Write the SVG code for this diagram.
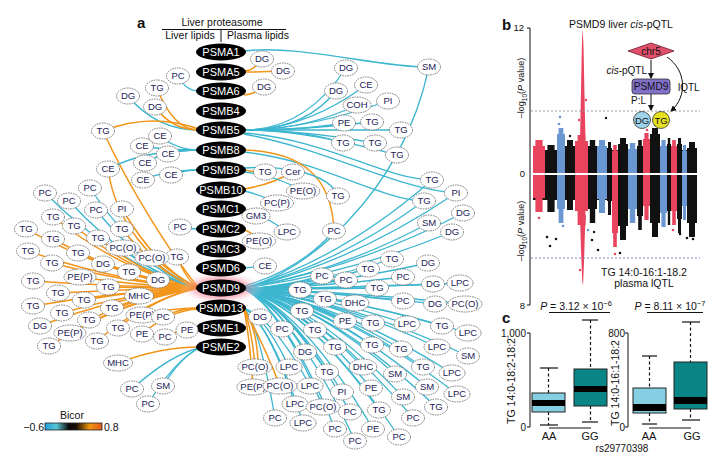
<svg xmlns="http://www.w3.org/2000/svg" width="720" height="464" viewBox="0 0 720 464">
<style>
.c{fill:none;stroke:#3cb6d0;stroke-width:1.3}
.o{fill:none;stroke:#f3951a;stroke-width:1.5}
.n ellipse{fill:#fff;stroke:#707070;stroke-width:0.9;stroke-dasharray:1.6 0.9}
.n text{font-family:"Liberation Sans",Arial,sans-serif;font-size:9.5px;fill:#1c2257;text-anchor:middle}
.p ellipse{fill:#000}
.p text{font-family:"Liberation Sans",Arial,sans-serif;font-size:11px;fill:#fff;text-anchor:middle}
.t{font-family:"Liberation Sans",Arial,sans-serif;fill:#111}
.r{fill:#e8445e}.k{fill:#111}.b{fill:#6a96d2}
.ax{stroke:#111;stroke-width:1;fill:none}
.wh{stroke:#111;stroke-width:1.2;stroke-dasharray:3 2.5}
.cap{stroke:#111;stroke-width:1.2}
</style>
<defs>
<radialGradient id="glow" cx="0.5" cy="0.5" r="0.5">
<stop offset="0" stop-color="#f04a6a" stop-opacity="0.9"/>
<stop offset="0.6" stop-color="#f27a90" stop-opacity="0.45"/>
<stop offset="1" stop-color="#ffffff" stop-opacity="0"/>
</radialGradient>
<linearGradient id="bicor" x1="0" x2="1" y1="0" y2="0">
<stop offset="0" stop-color="#1e9fd8"/>
<stop offset="0.2" stop-color="#5cc6d6"/>
<stop offset="0.42" stop-color="#0a0a0a"/>
<stop offset="0.55" stop-color="#1a1005"/>
<stop offset="0.78" stop-color="#f0960f"/>
<stop offset="1" stop-color="#e05a1e"/>
</linearGradient>
<marker id="ar" markerWidth="6" markerHeight="6" refX="5" refY="3" orient="auto" markerUnits="userSpaceOnUse">
<path d="M0,0 L6,3 L0,6 z" fill="#111"/>
</marker>
</defs>
<rect width="720" height="464" fill="#fff"/>

<text class="t" x="137" y="28" font-size="15" font-weight="bold">a</text>
<text class="t" x="222" y="26" font-size="10.5" text-anchor="middle">Liver proteasome</text>
<line x1="162" y1="29.5" x2="286" y2="29.5" class="ax"/>
<line x1="221" y1="29.5" x2="221" y2="42" class="ax"/>
<text class="t" x="190" y="39" font-size="10.5" text-anchor="middle">Liver lipids</text>
<text class="t" x="258" y="39" font-size="10.5" text-anchor="middle">Plasma lipids</text>

<g id="connectors">
<path class="c" d="M199 91 Q186 91 178 76"/>
<path class="o" d="M199 130 Q173 130 157 88"/>
<path class="c" d="M199 130 Q156 130 128 96"/>
<path class="o" d="M199 130 Q172 130 155 107"/>
<path class="o" d="M199 129 Q150 112 103 131"/>
<path class="o" d="M199 288 C175 260 130 190 103 131"/>
<path class="c" d="M199 150 Q177 150 160 136"/>
<path class="c" d="M199 150 Q164 150 142 146"/>
<path class="c" d="M199 150 Q180 150 168 154"/>
<path class="c" d="M199 150 Q166 150 145 163"/>
<path class="c" d="M199 170 Q182 170 171 175"/>
<path class="c" d="M199 170 Q165 170 143 180"/>
<path class="c" d="M199 150 Q144 150 108 169"/>
<path class="o" d="M199 288 C150 265 115 220 108 169"/>
<path class="c" d="M199 229 Q190 229 180 227"/>
<path class="c" d="M199 288 Q121.5 269 45 193"/>
<path class="c" d="M199 288 Q144 268 90 188"/>
<path class="c" d="M199 288 Q133.5 270.6 69 201"/>
<path class="c" d="M199 288 Q147 272 96 210"/>
<path class="o" d="M199 288 Q160 272 122 209"/>
<path class="o" d="M199 288 Q125.5 274 53 217"/>
<path class="o" d="M199 288 Q136 275.6 74 226"/>
<path class="o" d="M199 288 Q112 276 26 229"/>
<path class="o" d="M199 288 Q125.5 278 53 239"/>
<path class="o" d="M199 288 Q148 278 98 238"/>
<path class="o" d="M199 288 Q160 276 122 229"/>
<path class="o" d="M199 288 Q113 280.6 28 251"/>
<path class="o" d="M199 288 Q138 281 78 253"/>
<path class="c" d="M199 288 Q160.5 280 123 248"/>
<path class="o" d="M199 288 Q125 283 52 263"/>
<path class="o" d="M199 288 Q150.5 283 103 264"/>
<path class="o" d="M199 288 Q175 282 152 258"/>
<path class="o" d="M199 288 Q187.5 282 177 257"/>
<path class="o" d="M199 288 Q163.5 285 129 272"/>
<path class="o" d="M199 288 Q115.5 286.6 33 281"/>
<path class="o" d="M199 288 Q139 286 80 277"/>
<path class="o" d="M199 288 Q153 288 108 287"/>
<path class="o" d="M199 288 Q178 286 158 280"/>
<path class="o" d="M199 288 Q128 289 58 293"/>
<path class="o" d="M199 288 Q141 290 84 300"/>
<path class="o" d="M199 288 Q168.5 289.6 139 296"/>
<path class="o" d="M199 288 Q115.5 291.6 33 306"/>
<path class="o" d="M199 288 Q155 292 112 308"/>
<path class="o" d="M199 288 Q130 293 62 313"/>
<path class="o" d="M199 288 Q143.5 294 89 320"/>
<path class="o" d="M199 288 Q119 295.6 40 326"/>
<path class="o" d="M199 288 Q134 297 70 333"/>
<path class="o" d="M199 288 Q158 296 118 328"/>
<path class="o" d="M199 288 Q123.5 299.6 49 346"/>
<path class="o" d="M199 288 Q147.5 298.6 97 341"/>
<path class="o" d="M199 308 Q170 308 142 315"/>
<path class="o" d="M199 308 Q180 308 163 317"/>
<path class="o" d="M199 309 Q170 310 142 334"/>
<path class="o" d="M199 328 Q182 328 165 337"/>
<path class="o" d="M199 327 L188 330"/>
<path class="o" d="M199 347 Q160 347 118 363"/>
<path class="c" d="M199 348 Q170 355 132 389"/>
<path class="c" d="M199 348 Q180 358 163 386"/>
<path class="c" d="M199 348 Q175 360 148 404"/>
<path class="c" d="M244 51 C300 44 380 68 429 67"/>
<path class="c" d="M244 288 C300 275 400 200 429 67"/>
<path class="o" d="M244 71 Q254 71 262 59"/>
<path class="o" d="M244 72 Q265 72 283 71"/>
<path class="o" d="M244 95 Q255 94 264 87"/>
<path class="c" d="M244 130 Q305 130 346 68" stroke-width="1.6"/>
<path class="c" d="M244 130 Q305 130 336 91" stroke-width="1.6"/>
<path class="c" d="M244 130 Q305 130 366 85" stroke-width="1.6"/>
<path class="c" d="M244 130 Q305 130 357 105" stroke-width="1.6"/>
<path class="c" d="M244 130 Q305 130 388 101" stroke-width="1.6"/>
<path class="c" d="M244 130 Q305 130 344 123" stroke-width="1.6"/>
<path class="c" d="M244 130 Q305 130 372 122" stroke-width="1.6"/>
<path class="c" d="M244 130 Q305 130 401 130" stroke-width="1.6"/>
<path class="c" d="M244 130 Q305 130 343 143" stroke-width="1.6"/>
<path class="c" d="M244 130 Q305 130 375 143" stroke-width="1.6"/>
<path class="c" d="M244 130 Q305 130 397 155" stroke-width="1.6"/>
<path class="c" d="M244 133 C330 140 380 178 432 180"/>
<path class="c" d="M244 134 C330 150 400 190 456 193"/>
<path class="c" d="M244 152 C320 160 380 200 424 201"/>
<path class="o" d="M244 150 C300 152 332 175 334 231"/>
<path class="o" d="M244 170 Q255 172 265 172"/>
<path class="o" d="M244 189 Q270 185 293 172"/>
<path class="c" d="M244 172 Q275 175 303 191"/>
<path class="c" d="M244 191 Q262 195 277 203"/>
<path class="c" d="M244 168 C290 165 330 175 338 196"/>
<path class="c" d="M244 210 Q250 213 256 216"/>
<path class="c" d="M244 211 Q265 215 287 232"/>
<path class="o" d="M244 230 Q252 232 259 241"/>
<path class="c" d="M244 268 L265 266"/>
<path class="c" d="M244 286 Q300 270 334 231"/>
<path class="c" d="M244 288 Q339 261 432 180"/>
<path class="c" d="M244 288 Q351 264 456 193"/>
<path class="c" d="M244 288 Q335 266 424 201"/>
<path class="c" d="M244 288 Q354.5 269 463 213"/>
<path class="c" d="M244 288 Q337.5 272 429 223"/>
<path class="c" d="M244 288 Q349 274 452 232"/>
<path class="c" d="M244 289 Q311.7 284.5 392 259"/>
<path class="c" d="M244 289 Q327.9 285.1 428 263"/>
<path class="c" d="M244 289 Q300.9 286 368 269"/>
<path class="c" d="M244 289 Q280.2 287 322 276"/>
<path class="c" d="M244 289 Q291 287.7 346 280"/>
<path class="c" d="M244 289 Q316.7 287.2 403 277"/>
<path class="c" d="M244 289 Q330.2 288.3 433 284"/>
<path class="c" d="M244 289 Q342.3 288.1 460 283"/>
<path class="c" d="M244 289 Q270.3 289.2 300 290"/>
<path class="c" d="M244 289 Q281.6 290.5 325 299"/>
<path class="c" d="M244 289 Q305 289 377 288"/>
<path class="c" d="M244 289 Q295 291 355 303"/>
<path class="c" d="M244 289 Q316.7 290.8 403 301"/>
<path class="c" d="M244 289 Q331 291.3 435 304"/>
<path class="c" d="M244 289 Q344.6 291.3 465 304"/>
<path class="c" d="M244 289 Q271.2 292.3 302 311"/>
<path class="c" d="M244 289 Q290.6 293.8 345 321"/>
<path class="c" d="M244 289 Q303.2 294.1 373 323"/>
<path class="c" d="M244 289 Q318.5 294.3 407 324"/>
<path class="c" d="M244 289 Q334.2 294.6 442 326"/>
<path class="c" d="M244 289 Q345.9 295.6 468 333"/>
<path class="c" d="M244 309 Q252 312 260 317"/>
<path class="c" d="M244 289 Q262.2 295 282 329"/>
<path class="c" d="M244 289 Q277 295.2 315 330"/>
<path class="c" d="M244 289 Q286 297.7 335 347"/>
<path class="c" d="M244 289 Q302.7 297.4 372 345"/>
<path class="c" d="M244 289 Q315.75 298 401 349"/>
<path class="c" d="M244 289 Q332 297.7 437 347"/>
<path class="c" d="M244 289 Q346 299 468 356"/>
<path class="c" d="M244 289 Q272.6 298.5 305 352"/>
<path class="c" d="M244 308 Q265.4 316.9 289 367"/>
<path class="c" d="M244 289 Q282.5 301.5 327 372"/>
<path class="c" d="M244 289 Q298.7 300.7 363 367"/>
<path class="c" d="M244 289 Q313 301.8 395 374"/>
<path class="c" d="M244 289 Q325.7 300.7 423 367"/>
<path class="c" d="M244 289 Q338.7 301.6 452 373"/>
<path class="c" d="M244 308 Q274.8 319.7 310 386"/>
<path class="c" d="M244 289 Q289.2 304.5 342 392"/>
<path class="c" d="M244 289 Q302.3 303.9 371 388"/>
<path class="c" d="M244 289 Q316.7 305.2 403 397"/>
<path class="c" d="M244 289 Q327.5 303.7 427 387"/>
<path class="c" d="M244 289 Q341 304.8 457 394"/>
<path class="c" d="M244 308 Q268 322.4 295 404"/>
<path class="c" d="M244 289 Q280.7 306.7 323 407"/>
<path class="c" d="M244 289 Q292.8 307.5 350 412"/>
<path class="c" d="M244 289 Q305.9 307 379 410"/>
<path class="c" d="M244 289 Q331.5 306.7 436 407"/>
<path class="c" d="M244 308 Q259 324.5 275 418"/>
<path class="c" d="M244 308 Q271.7 325.3 303 423"/>
<path class="c" d="M244 289 Q321 308.4 413 418"/>
<path class="c" d="M244 289 Q286 310 335 429"/>
<path class="c" d="M244 289 Q303 310 373 429"/>
<path class="c" d="M244 289 Q295 311.8 355 441"/>
<path class="c" d="M244 289 Q314.9 311.2 399 437"/>
<path class="o" d="M244 309 Q252 330 255 367"/>
<path class="o" d="M244 309 Q258 330 258 367"/>
<path class="o" d="M244 309 Q250 340 253 387"/>
<path class="o" d="M244 309 Q262 340 280 386"/>
</g>

<ellipse cx="221" cy="288" rx="44" ry="17" fill="url(#glow)"/>

<g id="PSMA1" class="p"><ellipse cx="221" cy="52" rx="25" ry="8.5"/><text x="221" y="56">PSMA1</text></g>
<g id="PSMA5" class="p"><ellipse cx="221" cy="72" rx="25" ry="8.5"/><text x="221" y="76">PSMA5</text></g>
<g id="PSMA6" class="p"><ellipse cx="221" cy="91" rx="25" ry="8.5"/><text x="221" y="95">PSMA6</text></g>
<g id="PSMB4" class="p"><ellipse cx="221" cy="111" rx="25" ry="8.5"/><text x="221" y="115">PSMB4</text></g>
<g id="PSMB5" class="p"><ellipse cx="221" cy="130" rx="25" ry="8.5"/><text x="221" y="134">PSMB5</text></g>
<g id="PSMB8" class="p"><ellipse cx="221" cy="150" rx="25" ry="8.5"/><text x="221" y="154">PSMB8</text></g>
<g id="PSMB9" class="p"><ellipse cx="221" cy="170" rx="25" ry="8.5"/><text x="221" y="174">PSMB9</text></g>
<g id="PSMB10" class="p"><ellipse cx="221" cy="190" rx="25" ry="8.5"/><text x="221" y="194">PSMB10</text></g>
<g id="PSMC1" class="p"><ellipse cx="221" cy="209" rx="25" ry="8.5"/><text x="221" y="213">PSMC1</text></g>
<g id="PSMC2" class="p"><ellipse cx="221" cy="229" rx="25" ry="8.5"/><text x="221" y="233">PSMC2</text></g>
<g id="PSMC3" class="p"><ellipse cx="221" cy="249" rx="25" ry="8.5"/><text x="221" y="253">PSMC3</text></g>
<g id="PSMD6" class="p"><ellipse cx="221" cy="268" rx="25" ry="8.5"/><text x="221" y="272">PSMD6</text></g>
<g id="PSMD9" class="p"><ellipse cx="221" cy="288" rx="25" ry="8.5"/><text x="221" y="292">PSMD9</text></g>
<g id="PSMD13" class="p"><ellipse cx="221" cy="308" rx="25" ry="8.5"/><text x="221" y="312">PSMD13</text></g>
<g id="PSME1" class="p"><ellipse cx="221" cy="328" rx="25" ry="8.5"/><text x="221" y="332">PSME1</text></g>
<g id="PSME2" class="p"><ellipse cx="221" cy="347" rx="25" ry="8.5"/><text x="221" y="351">PSME2</text></g>

<g id="l1" class="n"><ellipse cx="178" cy="76" rx="11.5" ry="8"/><text x="178" y="79.4">PC</text></g>
<g id="l2" class="n"><ellipse cx="157" cy="88" rx="11.5" ry="8"/><text x="157" y="91.4">TG</text></g>
<g id="l3" class="n"><ellipse cx="128" cy="96" rx="11.5" ry="8"/><text x="128" y="99.4">DG</text></g>
<g id="l4" class="n"><ellipse cx="155" cy="107" rx="11.5" ry="8"/><text x="155" y="110.4">DG</text></g>
<g id="l5" class="n"><ellipse cx="103" cy="131" rx="11.5" ry="8"/><text x="103" y="134.4">TG</text></g>
<g id="l6" class="n"><ellipse cx="160" cy="136" rx="11.5" ry="8"/><text x="160" y="139.4">CE</text></g>
<g id="l7" class="n"><ellipse cx="142" cy="146" rx="11.5" ry="8"/><text x="142" y="149.4">CE</text></g>
<g id="l8" class="n"><ellipse cx="168" cy="154" rx="11.5" ry="8"/><text x="168" y="157.4">CE</text></g>
<g id="l9" class="n"><ellipse cx="145" cy="163" rx="11.5" ry="8"/><text x="145" y="166.4">CE</text></g>
<g id="l10" class="n"><ellipse cx="108" cy="169" rx="11.5" ry="8"/><text x="108" y="172.4">CE</text></g>
<g id="l11" class="n"><ellipse cx="171" cy="175" rx="11.5" ry="8"/><text x="171" y="178.4">CE</text></g>
<g id="l12" class="n"><ellipse cx="143" cy="180" rx="11.5" ry="8"/><text x="143" y="183.4">CE</text></g>
<g id="l13" class="n"><ellipse cx="45" cy="193" rx="11.5" ry="8"/><text x="45" y="196.4">PC</text></g>
<g id="l14" class="n"><ellipse cx="90" cy="188" rx="11.5" ry="8"/><text x="90" y="191.4">PC</text></g>
<g id="l15" class="n"><ellipse cx="69" cy="201" rx="11.5" ry="8"/><text x="69" y="204.4">PC</text></g>
<g id="l16" class="n"><ellipse cx="96" cy="210" rx="11.5" ry="8"/><text x="96" y="213.4">PC</text></g>
<g id="l17" class="n"><ellipse cx="122" cy="209" rx="11.5" ry="8"/><text x="122" y="212.4">PI</text></g>
<g id="l18" class="n"><ellipse cx="53" cy="217" rx="11.5" ry="8"/><text x="53" y="220.4">TG</text></g>
<g id="l19" class="n"><ellipse cx="74" cy="226" rx="11.5" ry="8"/><text x="74" y="229.4">TG</text></g>
<g id="l20" class="n"><ellipse cx="26" cy="229" rx="11.5" ry="8"/><text x="26" y="232.4">TG</text></g>
<g id="l21" class="n"><ellipse cx="53" cy="239" rx="11.5" ry="8"/><text x="53" y="242.4">TG</text></g>
<g id="l22" class="n"><ellipse cx="98" cy="238" rx="11.5" ry="8"/><text x="98" y="241.4">TG</text></g>
<g id="l23" class="n"><ellipse cx="122" cy="229" rx="11.5" ry="8"/><text x="122" y="232.4">TG</text></g>
<g id="l24" class="n"><ellipse cx="180" cy="227" rx="11.5" ry="8"/><text x="180" y="230.4">PC</text></g>
<g id="l25" class="n"><ellipse cx="28" cy="251" rx="11.5" ry="8"/><text x="28" y="254.4">TG</text></g>
<g id="l26" class="n"><ellipse cx="78" cy="253" rx="11.5" ry="8"/><text x="78" y="256.4">TG</text></g>
<g id="l27" class="n"><ellipse cx="123" cy="248" rx="17" ry="8"/><text x="123" y="251.4">PC(O)</text></g>
<g id="l28" class="n"><ellipse cx="52" cy="263" rx="11.5" ry="8"/><text x="52" y="266.4">TG</text></g>
<g id="l29" class="n"><ellipse cx="103" cy="264" rx="11.5" ry="8"/><text x="103" y="267.4">DG</text></g>
<g id="l31" class="n"><ellipse cx="177" cy="257" rx="11.5" ry="8"/><text x="177" y="260.4">TG</text></g>
<g id="l30" class="n"><ellipse cx="152" cy="258" rx="17" ry="8"/><text x="152" y="261.4">PC(O)</text></g>
<g id="l32" class="n"><ellipse cx="129" cy="272" rx="11.5" ry="8"/><text x="129" y="275.4">TG</text></g>
<g id="l33" class="n"><ellipse cx="33" cy="281" rx="11.5" ry="8"/><text x="33" y="284.4">TG</text></g>
<g id="l34" class="n"><ellipse cx="80" cy="277" rx="16" ry="8"/><text x="80" y="280.4">PE(P)</text></g>
<g id="l35" class="n"><ellipse cx="108" cy="287" rx="11.5" ry="8"/><text x="108" y="290.4">TG</text></g>
<g id="l36" class="n"><ellipse cx="158" cy="280" rx="11.5" ry="8"/><text x="158" y="283.4">DG</text></g>
<g id="l37" class="n"><ellipse cx="58" cy="293" rx="11.5" ry="8"/><text x="58" y="296.4">TG</text></g>
<g id="l38" class="n"><ellipse cx="84" cy="300" rx="11.5" ry="8"/><text x="84" y="303.4">TG</text></g>
<g id="l39" class="n"><ellipse cx="139" cy="296" rx="14.5" ry="8"/><text x="139" y="299.4">MHC</text></g>
<g id="l40" class="n"><ellipse cx="33" cy="306" rx="11.5" ry="8"/><text x="33" y="309.4">TG</text></g>
<g id="l41" class="n"><ellipse cx="112" cy="308" rx="11.5" ry="8"/><text x="112" y="311.4">TG</text></g>
<g id="l42" class="n"><ellipse cx="62" cy="313" rx="11.5" ry="8"/><text x="62" y="316.4">TG</text></g>
<g id="l43" class="n"><ellipse cx="89" cy="320" rx="11.5" ry="8"/><text x="89" y="323.4">TG</text></g>
<g id="l44" class="n"><ellipse cx="142" cy="315" rx="16" ry="8"/><text x="142" y="318.4">PE(P)</text></g>
<g id="l45" class="n"><ellipse cx="163" cy="317" rx="11.5" ry="8"/><text x="163" y="320.4">PC</text></g>
<g id="l46" class="n"><ellipse cx="40" cy="326" rx="11.5" ry="8"/><text x="40" y="329.4">DG</text></g>
<g id="l47" class="n"><ellipse cx="70" cy="333" rx="16" ry="8"/><text x="70" y="336.4">PE(P)</text></g>
<g id="l48" class="n"><ellipse cx="118" cy="328" rx="11.5" ry="8"/><text x="118" y="331.4">TG</text></g>
<g id="l49" class="n"><ellipse cx="142" cy="334" rx="11.5" ry="8"/><text x="142" y="337.4">PE</text></g>
<g id="l50" class="n"><ellipse cx="165" cy="337" rx="11.5" ry="8"/><text x="165" y="340.4">PC</text></g>
<g id="l51" class="n"><ellipse cx="187" cy="330" rx="11" ry="8"/><text x="187" y="333.4">PE</text></g>
<g id="l52" class="n"><ellipse cx="49" cy="346" rx="11.5" ry="8"/><text x="49" y="349.4">TG</text></g>
<g id="l53" class="n"><ellipse cx="97" cy="341" rx="11.5" ry="8"/><text x="97" y="344.4">TG</text></g>
<g id="l54" class="n"><ellipse cx="118" cy="363" rx="14.5" ry="8"/><text x="118" y="366.4">MHC</text></g>
<g id="l55" class="n"><ellipse cx="132" cy="389" rx="11.5" ry="8"/><text x="132" y="392.4">PC</text></g>
<g id="l56" class="n"><ellipse cx="163" cy="386" rx="11.5" ry="8"/><text x="163" y="389.4">SM</text></g>
<g id="l57" class="n"><ellipse cx="148" cy="404" rx="11.5" ry="8"/><text x="148" y="407.4">PC</text></g>

<g id="r1" class="n"><ellipse cx="262" cy="59" rx="11.5" ry="8"/><text x="262" y="62.4">DG</text></g>
<g id="r2" class="n"><ellipse cx="283" cy="71" rx="11.5" ry="8"/><text x="283" y="74.4">DG</text></g>
<g id="r3" class="n"><ellipse cx="264" cy="87" rx="11.5" ry="8"/><text x="264" y="90.4">DG</text></g>
<g id="r4" class="n"><ellipse cx="346" cy="68" rx="11.5" ry="8"/><text x="346" y="71.4">DG</text></g>
<g id="r5" class="n"><ellipse cx="336" cy="91" rx="11.5" ry="8"/><text x="336" y="94.4">DG</text></g>
<g id="r6" class="n"><ellipse cx="366" cy="85" rx="11.5" ry="8"/><text x="366" y="88.4">CE</text></g>
<g id="r7" class="n"><ellipse cx="357" cy="105" rx="14" ry="8"/><text x="357" y="108.4">COH</text></g>
<g id="r8" class="n"><ellipse cx="388" cy="101" rx="11.5" ry="8"/><text x="388" y="104.4">PI</text></g>
<g id="r9" class="n"><ellipse cx="344" cy="123" rx="11.5" ry="8"/><text x="344" y="126.4">PE</text></g>
<g id="r10" class="n"><ellipse cx="372" cy="122" rx="11.5" ry="8"/><text x="372" y="125.4">TG</text></g>
<g id="r11" class="n"><ellipse cx="401" cy="130" rx="11.5" ry="8"/><text x="401" y="133.4">TG</text></g>
<g id="r12" class="n"><ellipse cx="343" cy="143" rx="11.5" ry="8"/><text x="343" y="146.4">TG</text></g>
<g id="r13" class="n"><ellipse cx="375" cy="143" rx="11.5" ry="8"/><text x="375" y="146.4">TG</text></g>
<g id="r14" class="n"><ellipse cx="397" cy="155" rx="11.5" ry="8"/><text x="397" y="158.4">TG</text></g>
<g id="r15" class="n"><ellipse cx="429" cy="67" rx="11.5" ry="8"/><text x="429" y="70.4">SM</text></g>
<g id="r16" class="n"><ellipse cx="265" cy="172" rx="11.5" ry="8"/><text x="265" y="175.4">TG</text></g>
<g id="r17" class="n"><ellipse cx="293" cy="172" rx="11.5" ry="8"/><text x="293" y="175.4">Cer</text></g>
<g id="r18" class="n"><ellipse cx="303" cy="191" rx="16.7" ry="8"/><text x="303" y="194.4">PE(O)</text></g>
<g id="r19" class="n"><ellipse cx="277" cy="203" rx="16.5" ry="8"/><text x="277" y="206.4">PC(P)</text></g>
<g id="r20" class="n"><ellipse cx="338" cy="196" rx="11.5" ry="8"/><text x="338" y="199.4">TG</text></g>
<g id="r21" class="n"><ellipse cx="256" cy="216" rx="14" ry="8"/><text x="256" y="219.4">GM3</text></g>
<g id="r22" class="n"><ellipse cx="287" cy="232" rx="13" ry="8"/><text x="287" y="235.4">LPC</text></g>
<g id="r23" class="n"><ellipse cx="334" cy="231" rx="11.5" ry="8"/><text x="334" y="234.4">PC</text></g>
<g id="r24" class="n"><ellipse cx="259" cy="241" rx="16.7" ry="8"/><text x="259" y="244.4">PE(O)</text></g>
<g id="r25" class="n"><ellipse cx="265" cy="266" rx="11.5" ry="8"/><text x="265" y="269.4">CE</text></g>
<g id="r26" class="n"><ellipse cx="432" cy="180" rx="11.5" ry="8"/><text x="432" y="183.4">TG</text></g>
<g id="r27" class="n"><ellipse cx="456" cy="193" rx="11.5" ry="8"/><text x="456" y="196.4">PI</text></g>
<g id="r28" class="n"><ellipse cx="424" cy="201" rx="11.5" ry="8"/><text x="424" y="204.4">TG</text></g>
<g id="r29" class="n"><ellipse cx="463" cy="213" rx="11.5" ry="8"/><text x="463" y="216.4">DG</text></g>
<g id="r30" class="n"><ellipse cx="429" cy="223" rx="11.5" ry="8"/><text x="429" y="226.4">SM</text></g>
<g id="r31" class="n"><ellipse cx="452" cy="232" rx="11.5" ry="8"/><text x="452" y="235.4">DG</text></g>

<g id="b1" class="n"><ellipse cx="392" cy="259" rx="11.5" ry="8"/><text x="392" y="262.4">TG</text></g>
<g id="b2" class="n"><ellipse cx="428" cy="263" rx="11.5" ry="8"/><text x="428" y="266.4">DG</text></g>
<g id="b3" class="n"><ellipse cx="368" cy="269" rx="11.5" ry="8"/><text x="368" y="272.4">TG</text></g>
<g id="b4" class="n"><ellipse cx="322" cy="276" rx="11.5" ry="8"/><text x="322" y="279.4">PC</text></g>
<g id="b5" class="n"><ellipse cx="346" cy="280" rx="11.5" ry="8"/><text x="346" y="283.4">PC</text></g>
<g id="b6" class="n"><ellipse cx="403" cy="277" rx="11.5" ry="8"/><text x="403" y="280.4">PC</text></g>
<g id="b7" class="n"><ellipse cx="433" cy="284" rx="11.5" ry="8"/><text x="433" y="287.4">DG</text></g>
<g id="b8" class="n"><ellipse cx="460" cy="283" rx="13" ry="8"/><text x="460" y="286.4">LPC</text></g>
<g id="b9" class="n"><ellipse cx="300" cy="290" rx="11.5" ry="8"/><text x="300" y="293.4">TG</text></g>
<g id="b10" class="n"><ellipse cx="325" cy="299" rx="11.5" ry="8"/><text x="325" y="302.4">TG</text></g>
<g id="b11" class="n"><ellipse cx="377" cy="288" rx="11.5" ry="8"/><text x="377" y="291.4">TG</text></g>
<g id="b12" class="n"><ellipse cx="355" cy="303" rx="13.8" ry="8"/><text x="355" y="306.4">DHC</text></g>
<g id="b13" class="n"><ellipse cx="403" cy="301" rx="11.5" ry="8"/><text x="403" y="304.4">PC</text></g>
<g id="b14" class="n"><ellipse cx="435" cy="304" rx="11.5" ry="8"/><text x="435" y="307.4">DG</text></g>
<g id="b15" class="n"><ellipse cx="465" cy="304" rx="17" ry="8"/><text x="465" y="307.4">PC(O)</text></g>
<g id="b16" class="n"><ellipse cx="302" cy="311" rx="11.5" ry="8"/><text x="302" y="314.4">TG</text></g>
<g id="b17" class="n"><ellipse cx="345" cy="321" rx="11.5" ry="8"/><text x="345" y="324.4">PE</text></g>
<g id="b18" class="n"><ellipse cx="373" cy="323" rx="11.5" ry="8"/><text x="373" y="326.4">TG</text></g>
<g id="b19" class="n"><ellipse cx="407" cy="324" rx="13" ry="8"/><text x="407" y="327.4">LPC</text></g>
<g id="b20" class="n"><ellipse cx="442" cy="326" rx="11.5" ry="8"/><text x="442" y="329.4">TG</text></g>
<g id="b21" class="n"><ellipse cx="468" cy="333" rx="13" ry="8"/><text x="468" y="336.4">LPC</text></g>
<g id="b22" class="n"><ellipse cx="260" cy="317" rx="11.5" ry="8"/><text x="260" y="320.4">DG</text></g>
<g id="b23" class="n"><ellipse cx="282" cy="329" rx="11.5" ry="8"/><text x="282" y="332.4">PC</text></g>
<g id="b24" class="n"><ellipse cx="315" cy="330" rx="11.5" ry="8"/><text x="315" y="333.4">TG</text></g>
<g id="b25" class="n"><ellipse cx="335" cy="347" rx="11.5" ry="8"/><text x="335" y="350.4">TG</text></g>
<g id="b26" class="n"><ellipse cx="372" cy="345" rx="11.5" ry="8"/><text x="372" y="348.4">TG</text></g>
<g id="b27" class="n"><ellipse cx="401" cy="349" rx="11.5" ry="8"/><text x="401" y="352.4">TG</text></g>
<g id="b28" class="n"><ellipse cx="437" cy="347" rx="13" ry="8"/><text x="437" y="350.4">LPC</text></g>
<g id="b29" class="n"><ellipse cx="468" cy="356" rx="11.5" ry="8"/><text x="468" y="359.4">SM</text></g>
<g id="b30" class="n"><ellipse cx="305" cy="352" rx="11.5" ry="8"/><text x="305" y="355.4">DG</text></g>
<g id="b31" class="n"><ellipse cx="255" cy="367" rx="17" ry="8"/><text x="255" y="370.4">PC(O)</text></g>
<g id="b32" class="n"><ellipse cx="289" cy="367" rx="13" ry="8"/><text x="289" y="370.4">LPC</text></g>
<g id="b33" class="n"><ellipse cx="327" cy="372" rx="11.5" ry="8"/><text x="327" y="375.4">TG</text></g>
<g id="b34" class="n"><ellipse cx="363" cy="367" rx="13.8" ry="8"/><text x="363" y="370.4">DHC</text></g>
<g id="b35" class="n"><ellipse cx="395" cy="374" rx="11.5" ry="8"/><text x="395" y="377.4">SM</text></g>
<g id="b36" class="n"><ellipse cx="423" cy="367" rx="11.5" ry="8"/><text x="423" y="370.4">TG</text></g>
<g id="b37" class="n"><ellipse cx="452" cy="373" rx="13" ry="8"/><text x="452" y="376.4">LPC</text></g>
<g id="b38" class="n"><ellipse cx="253" cy="387" rx="16" ry="8"/><text x="253" y="390.4">PE(P)</text></g>
<g id="b39" class="n"><ellipse cx="280" cy="386" rx="17" ry="8"/><text x="280" y="389.4">PC(O)</text></g>
<g id="b40" class="n"><ellipse cx="310" cy="386" rx="13" ry="8"/><text x="310" y="389.4">LPC</text></g>
<g id="b41" class="n"><ellipse cx="342" cy="392" rx="11.5" ry="8"/><text x="342" y="395.4">PI</text></g>
<g id="b42" class="n"><ellipse cx="371" cy="388" rx="11.5" ry="8"/><text x="371" y="391.4">PE</text></g>
<g id="b43" class="n"><ellipse cx="403" cy="397" rx="11.5" ry="8"/><text x="403" y="400.4">SM</text></g>
<g id="b44" class="n"><ellipse cx="427" cy="387" rx="11.5" ry="8"/><text x="427" y="390.4">SM</text></g>
<g id="b45" class="n"><ellipse cx="457" cy="394" rx="13" ry="8"/><text x="457" y="397.4">LPC</text></g>
<g id="b46" class="n"><ellipse cx="295" cy="404" rx="13" ry="8"/><text x="295" y="407.4">LPC</text></g>
<g id="b47" class="n"><ellipse cx="323" cy="407" rx="17" ry="8"/><text x="323" y="410.4">PC(O)</text></g>
<g id="b48" class="n"><ellipse cx="350" cy="412" rx="11.5" ry="8"/><text x="350" y="415.4">PC</text></g>
<g id="b49" class="n"><ellipse cx="379" cy="410" rx="11.5" ry="8"/><text x="379" y="413.4">TG</text></g>
<g id="b50" class="n"><ellipse cx="436" cy="407" rx="11.5" ry="8"/><text x="436" y="410.4">TG</text></g>
<g id="b51" class="n"><ellipse cx="275" cy="418" rx="11.5" ry="8"/><text x="275" y="421.4">PC</text></g>
<g id="b52" class="n"><ellipse cx="303" cy="423" rx="13" ry="8"/><text x="303" y="426.4">LPC</text></g>
<g id="b53" class="n"><ellipse cx="413" cy="418" rx="11.5" ry="8"/><text x="413" y="421.4">PC</text></g>
<g id="b54" class="n"><ellipse cx="335" cy="429" rx="11.5" ry="8"/><text x="335" y="432.4">PC</text></g>
<g id="b55" class="n"><ellipse cx="373" cy="429" rx="11.5" ry="8"/><text x="373" y="432.4">PE</text></g>
<g id="b56" class="n"><ellipse cx="355" cy="441" rx="11.5" ry="8"/><text x="355" y="444.4">PC</text></g>
<g id="b57" class="n"><ellipse cx="399" cy="437" rx="11.5" ry="8"/><text x="399" y="440.4">PC</text></g>

<g id="legend">
<text class="t" x="72" y="419" font-size="10.5" text-anchor="middle">Bicor</text>
<rect x="45" y="423" width="57" height="7" fill="url(#bicor)" stroke="#222" stroke-width="0.8"/>
<text class="t" x="44" y="431" font-size="10.5" text-anchor="end">−0.6</text>
<text class="t" x="104" y="431" font-size="10.5">0.8</text>
</g>

<g id="panel-b">
<text class="t" x="502" y="30" font-size="15" font-weight="bold">b</text>
<text class="t" x="621" y="28" font-size="10.5" text-anchor="middle">PSMD9 liver <tspan font-style="italic">cis</tspan>-pQTL</text>
<rect class="k" x="533" y="150" width="164" height="50"/>
<g>
<rect class="r" x="533" y="146" width="12" height="52"/><rect class="r" x="535.4" y="140" width="7.2" height="72"/>
<rect class="k" x="545" y="151" width="12" height="47"/><rect class="k" x="547.4" y="145" width="7.2" height="67"/>
<rect class="b" x="557" y="134" width="8" height="75"/><rect class="b" x="558.6" y="128" width="4.8" height="95"/>
<rect class="k" x="565" y="146" width="10" height="50"/><rect class="k" x="567" y="140" width="6" height="70"/>
<rect class="r" x="575" y="141" width="13" height="70"/><rect class="r" x="577.6" y="135" width="7.8" height="90"/>
<polygon class="r" points="580,140 581,90 582,40 582.8,29 583.6,50 584.5,95 585.5,140"/>
<polygon class="r" points="580,215 581,250 582.2,280 583,286 584,262 585,230 586,215"/>
<rect class="k" x="588" y="146" width="9" height="63"/><rect class="k" x="589.8" y="140" width="5.4" height="83"/>
<rect class="b" x="597" y="146" width="10" height="53"/><rect class="b" x="599" y="140" width="6" height="73"/>
<rect class="k" x="607" y="148" width="5" height="53"/><rect class="k" x="608" y="142" width="3" height="73"/>
<rect class="r" x="612" y="151" width="6" height="82"/><rect class="r" x="613.2" y="145" width="3.6" height="102"/>
<rect class="k" x="618" y="144" width="10" height="82"/><rect class="k" x="620" y="138" width="6" height="102"/>
<rect class="b" x="628" y="149" width="9" height="60"/><rect class="b" x="629.8" y="143" width="5.4" height="80"/>
<rect class="k" x="637" y="146" width="6" height="70"/><rect class="k" x="638.2" y="140" width="3.6" height="90"/>
<rect class="r" x="643" y="139" width="7" height="67"/><rect class="r" x="644.4" y="133" width="4.2" height="87"/>
<rect class="k" x="650" y="134" width="10" height="89"/><rect class="k" x="652" y="128" width="6" height="109"/>
<rect class="b" x="660" y="146" width="7" height="67"/><rect class="b" x="661.4" y="140" width="4.2" height="87"/>
<rect class="k" x="667" y="144" width="4" height="67"/><rect class="k" x="667.8" y="138" width="2.4" height="87"/>
<rect class="r" x="671" y="146" width="6" height="65"/><rect class="r" x="672.2" y="140" width="3.6" height="85"/>
<rect class="k" x="677" y="144" width="5" height="75"/><rect class="k" x="678" y="138" width="3" height="95"/>
<rect class="b" x="682" y="151" width="5" height="55"/><rect class="b" x="683" y="145" width="3" height="75"/>
<rect class="k" x="687" y="148" width="10" height="75"/><rect class="k" x="689" y="142" width="6" height="95"/>
</g>
<g>
<circle class="b" cx="560" cy="117" r="1.3"/><circle class="b" cx="559" cy="124" r="1.3"/>
<circle class="k" cx="606" cy="118" r="1.2"/><circle class="r" cx="647" cy="130" r="1.3"/>
<circle class="k" cx="655" cy="125" r="1.2"/><circle class="r" cx="579" cy="120" r="1.2"/>
<circle class="r" cx="586" cy="100" r="1.2"/><circle class="k" cx="570" cy="136" r="1.2"/>
<circle class="k" cx="547" cy="237" r="1.3"/><circle class="k" cx="550" cy="246" r="1.3"/>
<circle class="k" cx="556" cy="239" r="1.3"/><circle class="b" cx="588" cy="230" r="1.3"/>
<circle class="k" cx="592" cy="240" r="1.3"/><circle class="k" cx="598" cy="250" r="1.3"/>
<circle class="r" cx="615" cy="254" r="1.3"/><circle class="k" cx="620" cy="253" r="1.3"/>
<circle class="r" cx="673" cy="230" r="1.3"/><circle class="k" cx="680" cy="234" r="1.3"/>
<circle class="k" cx="687" cy="238" r="1.3"/><circle class="k" cx="693" cy="239" r="1.3"/>
<circle class="r" cx="539" cy="218" r="1.3"/><circle class="b" cx="563" cy="226" r="1.3"/>
<circle class="r" cx="580" cy="270" r="1.2"/><circle class="k" cx="594" cy="232" r="1.2"/>
</g>
<line x1="531" y1="174" x2="700" y2="174" stroke="#fff" stroke-width="2"/>
<line x1="531" y1="111" x2="700" y2="111" stroke="#9a9aa8" stroke-width="1" stroke-dasharray="2 2"/>
<line x1="531" y1="258" x2="700" y2="258" stroke="#7f88cc" stroke-width="1" stroke-dasharray="2 2"/>
<path class="ax" d="M527 28 H530 V305 H527"/>
<text class="t" x="524" y="31" font-size="9.5" text-anchor="end">12</text>
<text class="t" x="525" y="177" font-size="9.5" text-anchor="end">0</text>
<text class="t" x="525" y="309" font-size="9.5" text-anchor="end">8</text>
<text class="t" transform="translate(524,88) rotate(-90)" font-size="9" text-anchor="middle">–log<tspan dy="2.5" font-size="6.5">10</tspan><tspan dy="-2.5">(</tspan><tspan font-style="italic">P</tspan> value)</text>
<text class="t" transform="translate(524,231) rotate(-90)" font-size="9" text-anchor="middle">–log<tspan dy="2.5" font-size="6.5">10</tspan><tspan dy="-2.5">(</tspan><tspan font-style="italic">P</tspan> value)</text>
<text class="t" x="644" y="276" font-size="10.5" text-anchor="middle">TG 14:0-16:1-18.2</text>
<text class="t" x="644" y="287" font-size="10.5" text-anchor="middle">plasma lQTL</text>
</g>

<g id="chr5"><polygon points="628,51 651,43 674,51 651,59" fill="#e0506a" stroke="#6a1a2a" stroke-width="0.8"/><text class="t" x="651" y="54.5" font-size="10" text-anchor="middle" fill="#3a1020">chr5</text></g>
<g id="inset-links">
<line x1="651" y1="60" x2="651" y2="78" class="ax" marker-end="url(#ar)"/>
<line x1="651" y1="94" x2="651" y2="110" class="ax" marker-end="url(#ar)"/>
<path d="M667 57 C686 70 688 96 671 111" class="ax" marker-end="url(#ar)"/>
</g>
<text class="t" x="647" y="74" font-size="10" text-anchor="end"><tspan font-style="italic">cis</tspan>-pQTL</text>
<text class="t" x="678" y="91" font-size="10">lQTL</text>
<text class="t" x="646" y="104" font-size="10" text-anchor="end">P:L</text>
<g id="psmd9box"><rect x="632" y="79" width="38" height="15" rx="3" fill="#8070c8" stroke="#333" stroke-width="0.8"/><text class="t" x="651" y="90" font-size="10" text-anchor="middle" fill="#1c1c50">PSMD9</text></g>
<g id="dgc"><circle cx="642" cy="120" r="8.5" fill="#9ed3ea" stroke="#333" stroke-width="0.8"/><text class="t" x="642" y="123.5" font-size="9.5" text-anchor="middle">DG</text></g>
<g id="tgc"><circle cx="661" cy="120" r="8.5" fill="#e6e020" stroke="#333" stroke-width="0.8"/><text class="t" x="661" y="123.5" font-size="9.5" text-anchor="middle">TG</text></g>

<g id="panel-c">
<text class="t" x="502" y="323" font-size="15" font-weight="bold">c</text>
<text class="t" x="576" y="310" font-size="10.5" text-anchor="middle"><tspan font-style="italic">P</tspan> = 3.12 × 10<tspan dy="-4" font-size="7.5">−6</tspan></text>
<line x1="549" y1="312.5" x2="610" y2="312.5" class="ax"/>
<text class="t" x="670" y="310" font-size="10.5" text-anchor="middle"><tspan font-style="italic">P</tspan> = 8.11 × 10<tspan dy="-4" font-size="7.5">−7</tspan></text>
<line x1="647" y1="312.5" x2="703" y2="312.5" class="ax"/>
<path class="ax" d="M527 333 H530 V427 H527"/>
<text class="t" x="526" y="337" font-size="10" text-anchor="end">1,000</text>
<text class="t" x="526" y="431" font-size="10" text-anchor="end">0</text>
<text class="t" transform="translate(515,381) rotate(-90)" font-size="10.5" text-anchor="middle">TG 14:0-18:2-18:2</text>
<line x1="548.5" y1="368" x2="548.5" y2="393" class="wh"/><line x1="548.5" y1="412" x2="548.5" y2="425" class="wh"/>
<line x1="540" y1="368" x2="558" y2="368" class="cap"/><line x1="540" y1="425" x2="558" y2="425" class="cap"/>
<rect x="532" y="393" width="33" height="19" fill="#85cfe3" stroke="#222"/>
<rect x="532" y="400" width="33" height="6" fill="#000"/>
<line x1="590.5" y1="320" x2="590.5" y2="369" class="wh"/><line x1="590.5" y1="406" x2="590.5" y2="422" class="wh"/>
<line x1="582" y1="320" x2="598" y2="320" class="cap"/><line x1="582" y1="422" x2="598" y2="422" class="cap"/>
<rect x="574" y="369" width="33" height="37" fill="#0a8585" stroke="#222"/>
<rect x="574" y="386" width="33" height="6" fill="#000"/>
<line x1="549" y1="428" x2="591" y2="428" class="ax"/>
<text class="t" x="549" y="440" font-size="11" text-anchor="middle">AA</text>
<text class="t" x="590" y="440" font-size="11" text-anchor="middle">GG</text>
<path class="ax" d="M625 333 H628 V427 H625"/>
<text class="t" x="625" y="337" font-size="10" text-anchor="end">800</text>
<text class="t" x="625" y="431" font-size="10" text-anchor="end">0</text>
<text class="t" transform="translate(619,383) rotate(-90)" font-size="10.5" text-anchor="middle">TG 14:0-16:1-18:2</text>
<line x1="649.5" y1="356" x2="649.5" y2="388" class="wh"/><line x1="649.5" y1="413" x2="649.5" y2="424" class="wh"/>
<line x1="642" y1="356" x2="657" y2="356" class="cap"/><line x1="642" y1="424" x2="657" y2="424" class="cap"/>
<rect x="633" y="388" width="33" height="25" fill="#85cfe3" stroke="#222"/>
<rect x="633" y="404" width="33" height="7" fill="#000"/>
<line x1="690.5" y1="322" x2="690.5" y2="362" class="wh"/><line x1="690.5" y1="409" x2="690.5" y2="420" class="wh"/>
<line x1="682" y1="322" x2="700" y2="322" class="cap"/><line x1="682" y1="420" x2="700" y2="420" class="cap"/>
<rect x="674" y="362" width="33" height="47" fill="#0a8585" stroke="#222"/>
<rect x="674" y="397" width="33" height="7" fill="#000"/>
<line x1="649" y1="428" x2="691" y2="428" class="ax"/>
<text class="t" x="649" y="440" font-size="11" text-anchor="middle">AA</text>
<text class="t" x="692" y="440" font-size="11" text-anchor="middle">GG</text>
<text class="t" x="622" y="452" font-size="10" text-anchor="middle">rs29770398</text>
</g>
</svg>
